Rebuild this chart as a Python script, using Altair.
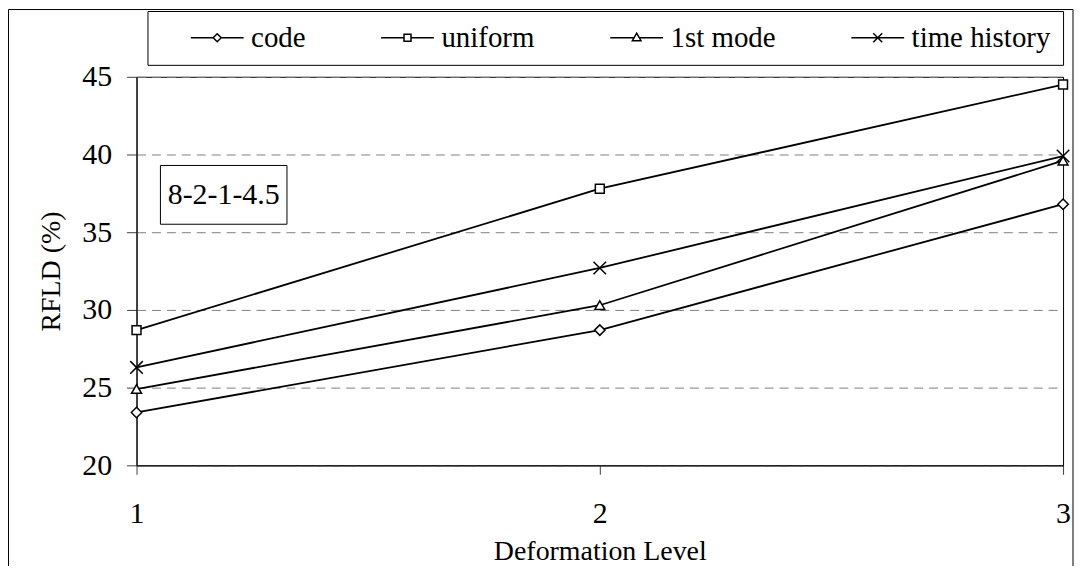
import altair as alt
import pandas as pd

levels = [1, 2, 3]
series_names = ["code", "uniform", "1st mode", "time history"]
code_vals = [23.4, 28.7, 36.8]
uniform_vals = [28.7, 37.8, 44.5]
first_mode_vals = [24.9, 30.3, 39.6]
time_history_vals = [26.3, 32.7, 39.9]
y_ticks = [20, 25, 30, 35, 40, 45]
annotation = "8-2-1-4.5"

rows = []
for name, vals in zip(series_names, [code_vals, uniform_vals, first_mode_vals, time_history_vals]):
    for lv, v in zip(levels, vals):
        rows.append({"level": lv, "value": v, "series": name})
df = pd.DataFrame(rows)

FONT = "Liberation Serif"

marker_paths = [
    "M0,-1L1,0L0,1L-1,0Z",
    "M-0.85,-0.85H0.85V0.85H-0.85Z",
    "M0,-0.85L0.95,0.8L-0.95,0.8Z",
    "M-1.2,-1.2L1.2,1.2M-1.2,1.2L1.2,-1.2",
]
legend_paths = [
    "M0,0H22.5M30.5,0H53M26.5,-4L30.5,0L26.5,4L22.5,0Z",
    "M0,0H23M30,0H53M23,-3.5H30V3.5H23Z",
    "M0,0H24.3M28.7,0H53M26.5,-4.5L30.8,3L22.2,3Z",
    "M0,0H53M22,-4.5L31,4.5M22,4.5L31,-4.5",
]

x_axis = alt.Axis(values=levels, labelExpr="format(datum.value, 'd')",
                  title="Deformation Level",
                  grid=False, tickSize=9, tickColor="#404040",
                  domainColor="black", labelPadding=24, labelOverlap=False,
                  labelFlush=False, labelFontSize=30,
                  titleY=95, titleBaseline="alphabetic")
y_axis = alt.Axis(values=y_ticks, title="RFLD (%)", grid=True,
                  gridDash=[9, 6], gridColor="#808080", gridWidth=1,
                  tickSize=10, tickColor="#404040", domainColor="black",
                  labelPadding=15, labelOverlap=False, labelFontSize=30,
                  titleX=-77, titleY=195,
                  titleBaseline="alphabetic", titleAngle=270)
x_scale = alt.Scale(domain=[1, 3], nice=False, zero=False)
y_scale = alt.Scale(domain=[20, 45], nice=False, zero=False)

def xe():
    return alt.X("level:Q", scale=x_scale, axis=x_axis)

def ye():
    return alt.Y("value:Q", scale=y_scale, axis=y_axis)

base = alt.Chart(df)

lines = base.mark_line(color="black", strokeWidth=1.8).encode(
    x=xe(), y=ye(), detail="series:N")

points = base.mark_point(filled=False, fill="white", stroke="black",
                         strokeWidth=1.5, size=110, opacity=1).encode(
    x=xe(), y=ye(),
    shape=alt.Shape("series:N", scale=alt.Scale(domain=series_names, range=marker_paths),
                    legend=None))

legend_layer = base.mark_point(filled=False, stroke="black", strokeWidth=1.5,
                               size=4, opacity=1).encode(
    x=xe(), y=ye(),
    shape=alt.Shape("series:N", scale=alt.Scale(domain=series_names, range=legend_paths),
                    legend=alt.Legend(title=None, orient="none", legendX=11, legendY=-66,
                                      direction="horizontal", padding=12,
                                      strokeColor="black", fillColor="white",
                                      labelFont=FONT, labelFontSize=29,
                                      labelColor="black", labelLimit=400,
                                      symbolOffset=17, labelOffset=46,
                                      columnPadding=44, symbolSize=4,
                                      symbolStrokeWidth=1.5, symbolStrokeColor="black",
                                      symbolOpacity=1))
).transform_filter("false")

deco = alt.Chart(alt.Data(values=[{}]))
outer_frame = deco.mark_rect(fill=None, stroke="black", strokeWidth=1).encode(
    x=alt.value(-128.5), x2=alt.value(940), y=alt.value(-67.5), y2=alt.value(520))
ann_box = deco.mark_rect(fill="white", stroke="black", strokeWidth=1).encode(
    x=alt.value(24), x2=alt.value(151), y=alt.value(89), y2=alt.value(148))
ann_text = deco.mark_text(text=annotation, font=FONT, fontSize=30, color="black",
                          align="center", baseline="middle").encode(
    x=alt.value(87.5), y=alt.value(119))

chart = alt.layer(outer_frame, lines, points, legend_layer, ann_box, ann_text).resolve_scale(
    shape="independent"
).properties(
    width=930, height=390,
    background="white",
    autosize=alt.AutoSizeParams(type="none"),
    padding={"left": 129, "top": 68, "right": 14, "bottom": 100},
).configure(font=FONT).configure_view(stroke="black", strokeWidth=1).configure_axis(
    labelFont=FONT, labelFontSize=30, labelColor="black",
    titleFont=FONT, titleFontSize=28, titleColor="black", titleFontWeight="normal",
    domainWidth=1,
).configure_legend(labelFont=FONT, labelFontSize=29).configure_text(font=FONT)

chart.save("out.html", embed_options={"renderer": "svg", "actions": False})
